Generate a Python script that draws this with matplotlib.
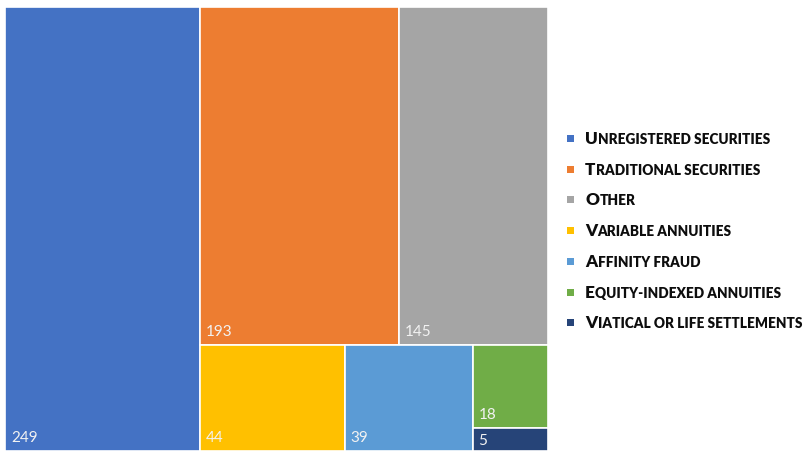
import matplotlib
matplotlib.use("Agg")
import matplotlib.pyplot as plt
from matplotlib.patches import Rectangle

categories = ["Unregistered securities", "Traditional securities", "Other",
              "Variable annuities", "Affinity fraud", "Equity-indexed annuities",
              "Viatical or life settlements"]
values = [249, 193, 145, 44, 39, 18, 5]
colors = ["#4472C4", "#ED7D31", "#A5A5A5", "#FFC000", "#5B9BD5", "#70AD47", "#264478"]

# treemap grouping (as Excel laid it out): 'h' = side by side, 'v' = stacked top to bottom
structure = ("h", [0, ("v", [("h", [1, 2]), ("h", [3, 4, ("v", [5, 6])])])])


def total(node):
    if isinstance(node, int):
        return values[node]
    return sum(total(c) for c in node[1])


def layout(node, x, y, w, h, out):
    if isinstance(node, int):
        out[node] = (x, y, w, h)
        return
    kind, children = node
    s = total(node)
    if kind == "h":
        cx = x
        for c in children:
            cw = w * total(c) / s
            layout(c, cx, y, cw, h, out)
            cx += cw
    else:
        cy = y + h
        for c in children:
            ch = h * total(c) / s
            layout(c, x, cy - ch, w, ch, out)
            cy -= ch


rects = {}
layout(structure, 0.0, 0.0, 1.0, 1.0, rects)

W, H = 804, 451
fig = plt.figure(figsize=(W / 100, H / 100), dpi=100)
ax = fig.add_axes([5 / W, 0 / H, 543 / W, 444 / H])
ax.set_xlim(0, 1)
ax.set_ylim(0, 1)
ax.axis("off")

axh_px = 444
for i, v in enumerate(values):
    x, y, w, h = rects[i]
    ax.add_patch(Rectangle((x, y), w, h, facecolor=colors[i], edgecolor="white", linewidth=1.2))
    hpx = h * axh_px
    yoff = min(9, (hpx - 11) / 2)
    ax.annotate(str(v), xy=(x, y), xytext=(6 * 0.72, yoff * 0.72), textcoords="offset points",
                ha="left", va="baseline", fontsize=11, color="#f2f2f2", family="Lato")

# legend with simulated small caps
fig.canvas.draw()
renderer = fig.canvas.get_renderer()
row_y = [138, 169, 199, 230, 261, 292, 322]
for i, cat in enumerate(categories):
    yc = 1 - row_y[i] / H
    fig.patches.append(Rectangle((567 / W, yc - 3.5 / H), 7 / W, 7 / H, transform=fig.transFigure,
                                 facecolor=colors[i], edgecolor="none"))
    t1 = fig.text(585 / W, yc - 6 / H, cat[0], fontsize=12.3, fontweight="heavy", family="Lato",
                  color="#0d0d0d", va="baseline", ha="left")
    bb = t1.get_window_extent(renderer)
    fig.text(bb.x1 / W + 0.5 / W, yc - 6 / H, cat[1:].upper(), fontsize=9.8, fontweight="heavy",
             family="Lato", color="#0d0d0d", va="baseline", ha="left")

fig.savefig("out.png", dpi=100)
